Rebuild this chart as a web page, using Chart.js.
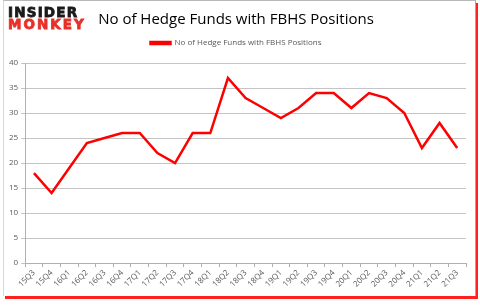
<!DOCTYPE html>
<html>
<head>
<meta charset="utf-8">
<script src="https://cdn.jsdelivr.net/npm/chart.js@4.4.0/dist/chart.umd.min.js"></script>
<style>
  html, body { margin: 0; padding: 0; background: #fff; }
  #wrap { position: relative; width: 480px; height: 305px; overflow: hidden; }
  #frame {
    position: absolute; left: 3px; top: 0px; width: 471px; height: 295px;
    border-top: 1px solid #b8b8b8; border-right: 1px solid #a8a8a8;
    border-left: 1px solid #f2caca;
    box-shadow: 2px 3px 0 #ff2020;
  }
  #chartBox { position: absolute; left: 0; top: 0; width: 480px; height: 305px; }
  .logo { position: absolute; left: 8px; font-family: "DejaVu Sans", sans-serif; font-weight: bold; font-size: 13.5px; line-height: 13px; -webkit-text-stroke: 0.8px; }
  #logo1 { top: 6px; color: #1a1a1a; -webkit-text-stroke-color: #1a1a1a; letter-spacing: 1.2px; }
  #logo2 { top: 18px; color: #e8302a; -webkit-text-stroke-color: #e8302a; letter-spacing: 2px; }
</style>
</head>
<body>
<div id="wrap">
  <div id="frame"></div>
  <div id="chartBox"><canvas id="myChart" width="480" height="305"></canvas></div>
  <div class="logo" id="logo1">INSIDER</div>
  <div class="logo" id="logo2">MONKEY</div>
</div>
<script>
// quarters and hedge fund counts
const quarters = ['15Q3', '15Q4', '16Q1', '16Q2', '16Q3', '16Q4', '17Q1', '17Q2', '17Q3', '17Q4',
    '18Q1', '18Q2', '18Q3', '18Q4', '19Q1', '19Q2', '19Q3', '19Q4', '20Q1', '20Q2',
    '20Q3', '20Q4', '21Q1', '21Q2', '21Q3'];
const fundCounts = [18, 14, 19, 24, 25, 26, 26, 22, 20, 26,
    26, 37, 33, 31, 29, 31, 34, 34, 31, 34,
    33, 30, 23, 28, 23];
const yTicks = [0, 5, 10, 15, 20, 25, 30, 35, 40];

const seriesName = 'No of Hedge Funds with FBHS Positions';
const chartTitle = 'No of Hedge Funds with FBHS Positions';

// a bit more room under the legend
const legendGap = {
    id: 'legendGap',
    beforeInit(chart) {
        const fit = chart.legend.fit;
        chart.legend.fit = function () {
            fit.bind(chart.legend)();
            this.height += 6;
        };
    }
};

const ctx = document.getElementById('myChart').getContext('2d');
const data = {
    labels: quarters,
    datasets: [{
        label: seriesName,
        data: fundCounts,
        borderColor: '#ff0000',
        backgroundColor: '#ff0000',
        borderWidth: 2.5,
        pointRadius: 0,
        tension: 0
    }]
};
const config = {
    type: 'line',
    data: data,
    plugins: [legendGap],
    options: {
        responsive: false,
        animation: false,
        layout: {
            padding: {left: 6, right: 14, top: 2, bottom: 15}
        },
        plugins: {
            title: {
                display: true,
                text: chartTitle,
                color: '#000',
                font: {family: 'Open Sans', size: 15, weight: 'normal'},
                padding: {top: 9, bottom: 2}
            },
            legend: {
                display: true,
                labels: {
                    color: '#595959',
                    font: {family: 'Open Sans', size: 8},
                    boxWidth: 20,
                    boxHeight: 2,
                    padding: 8
                }
            },
            tooltip: {enabled: false}
        },
        scales: {
            x: {
                offset: true,
                grid: {
                    offset: true,
                    drawOnChartArea: false,
                    drawTicks: true,
                    tickLength: 4,
                    color: '#b0b0b0'
                },
                border: {color: '#b0b0b0'},
                ticks: {
                    color: '#595959',
                    font: {family: 'Open Sans', size: 8},
                    minRotation: 45,
                    maxRotation: 45,
                    autoSkip: false,
                    padding: 1
                }
            },
            y: {
                min: yTicks[0],
                max: yTicks[yTicks.length - 1],
                afterBuildTicks: function (axis) {
                    axis.ticks = yTicks.map(v => ({value: v}));
                },
                grid: {
                    color: '#c4c4c4',
                    tickLength: 4
                },
                border: {color: '#b0b0b0'},
                ticks: {
                    color: '#595959',
                    font: {family: 'Open Sans', size: 8},
                    padding: 3
                }
            }
        }
    }
};
const myChart = new Chart(ctx, config);
</script>
</body>
</html>
